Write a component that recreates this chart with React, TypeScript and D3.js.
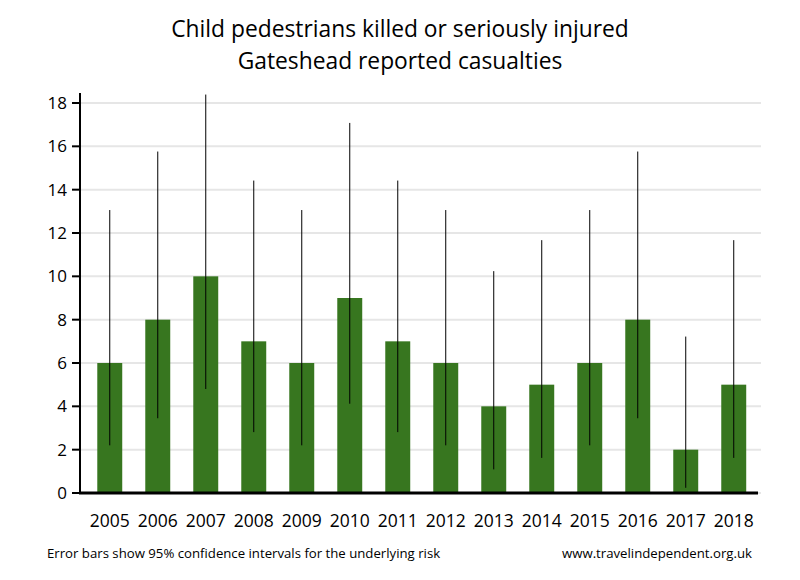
import React, { useEffect, useRef } from "react"
import * as d3 from "d3"

const years = ["2005", "2006", "2007", "2008", "2009", "2010", "2011", "2012", "2013", "2014", "2015", "2016", "2017", "2018"]
const casualties = [6, 8, 10, 7, 6, 9, 7, 6, 4, 5, 6, 8, 2, 5]
const lowerCI = [2.2, 3.45, 4.8, 2.81, 2.2, 4.12, 2.81, 2.2, 1.09, 1.62, 2.2, 3.45, 0.24, 1.62]
const upperCI = [13.06, 15.76, 18.39, 14.42, 13.06, 17.08, 14.42, 13.06, 10.24, 11.67, 13.06, 15.76, 7.22, 11.67]
const yTicks = [0, 2, 4, 6, 8, 10, 12, 14, 16, 18]
const titleLines = ["Child pedestrians killed or seriously injured", "Gateshead reported casualties"]

const W = 800
const H = 580
const font = "'Open Sans', 'DejaVu Sans', sans-serif"

export default function App() {
  const ref = useRef<SVGSVGElement>(null)

  useEffect(() => {
    const svg = d3.select(ref.current)
    svg.selectAll("*").remove()

    const x = d3.scaleBand().domain(years).range([80, 763.5]).paddingInner(0.48).paddingOuter(0.36)
    const y = d3.scaleLinear().domain([0, 18]).range([493, 103])

    // gridlines
    svg.append("g")
      .selectAll("line")
      .data(yTicks)
      .enter()
      .append("line")
      .attr("x1", 80)
      .attr("x2", 761)
      .attr("y1", d => y(d))
      .attr("y2", d => y(d))
      .attr("stroke", "#e6e6e6")
      .attr("stroke-width", 2)

    // bars
    svg.append("g")
      .selectAll("rect")
      .data(casualties)
      .enter()
      .append("rect")
      .attr("x", (d, i) => x(years[i]))
      .attr("y", d => y(d))
      .attr("width", x.bandwidth())
      .attr("height", d => y(0) - y(d))
      .attr("fill", "#37761f")

    // error bars
    svg.append("g")
      .selectAll("line")
      .data(years)
      .enter()
      .append("line")
      .attr("x1", d => x(d) + x.bandwidth() / 2)
      .attr("x2", d => x(d) + x.bandwidth() / 2)
      .attr("y1", (d, i) => y(lowerCI[i]))
      .attr("y2", (d, i) => y(upperCI[i]))
      .attr("stroke", "#000")
      .attr("stroke-width", 1)

    // y axis
    const yAxis = svg.append("g")
    yAxis.append("line")
      .attr("x1", 80).attr("x2", 80)
      .attr("y1", 93).attr("y2", 494)
      .attr("stroke", "#000").attr("stroke-width", 2)
    yAxis.selectAll("line.tick")
      .data(yTicks)
      .enter()
      .append("line")
      .attr("class", "tick")
      .attr("x1", 72).attr("x2", 80)
      .attr("y1", d => y(d)).attr("y2", d => y(d))
      .attr("stroke", "#000").attr("stroke-width", 2)
    yAxis.selectAll("text")
      .data(yTicks)
      .enter()
      .append("text")
      .attr("x", 67)
      .attr("y", d => y(d) + 6)
      .attr("text-anchor", "end")
      .attr("font-family", font)
      .attr("font-size", 17)
      .attr("fill", "#000")
      .text(d => d)

    // x axis
    svg.append("line")
      .attr("x1", 79).attr("x2", 758)
      .attr("y1", 493).attr("y2", 493)
      .attr("stroke", "#000").attr("stroke-width", 3)
    svg.append("g")
      .selectAll("text")
      .data(years)
      .enter()
      .append("text")
      .attr("x", d => x(d) + x.bandwidth() / 2)
      .attr("y", 527)
      .attr("text-anchor", "middle")
      .attr("font-family", font)
      .attr("font-size", 17.5)
      .attr("fill", "#000")
      .text(d => d)

    // title
    svg.append("g")
      .selectAll("text")
      .data(titleLines)
      .enter()
      .append("text")
      .attr("x", 400)
      .attr("y", (d, i) => 37 + i * 32)
      .attr("text-anchor", "middle")
      .attr("font-family", font)
      .attr("font-size", 22.8)
      .attr("fill", "#000")
      .text(d => d)

    // footer
    svg.append("text")
      .attr("x", 47).attr("y", 558)
      .attr("font-family", font).attr("font-size", 13.2)
      .text("Error bars show 95% confidence intervals for the underlying risk")
    svg.append("text")
      .attr("x", 752).attr("y", 558)
      .attr("text-anchor", "end")
      .attr("font-family", font).attr("font-size", 13.2)
      .text("www.travelindependent.org.uk")
  }, [])

  return (
    <svg
      ref={ref}
      width={W}
      height={H}
      style={{ position: "absolute", left: 0, top: 0, background: "#fff" }}
    />
  )
}
